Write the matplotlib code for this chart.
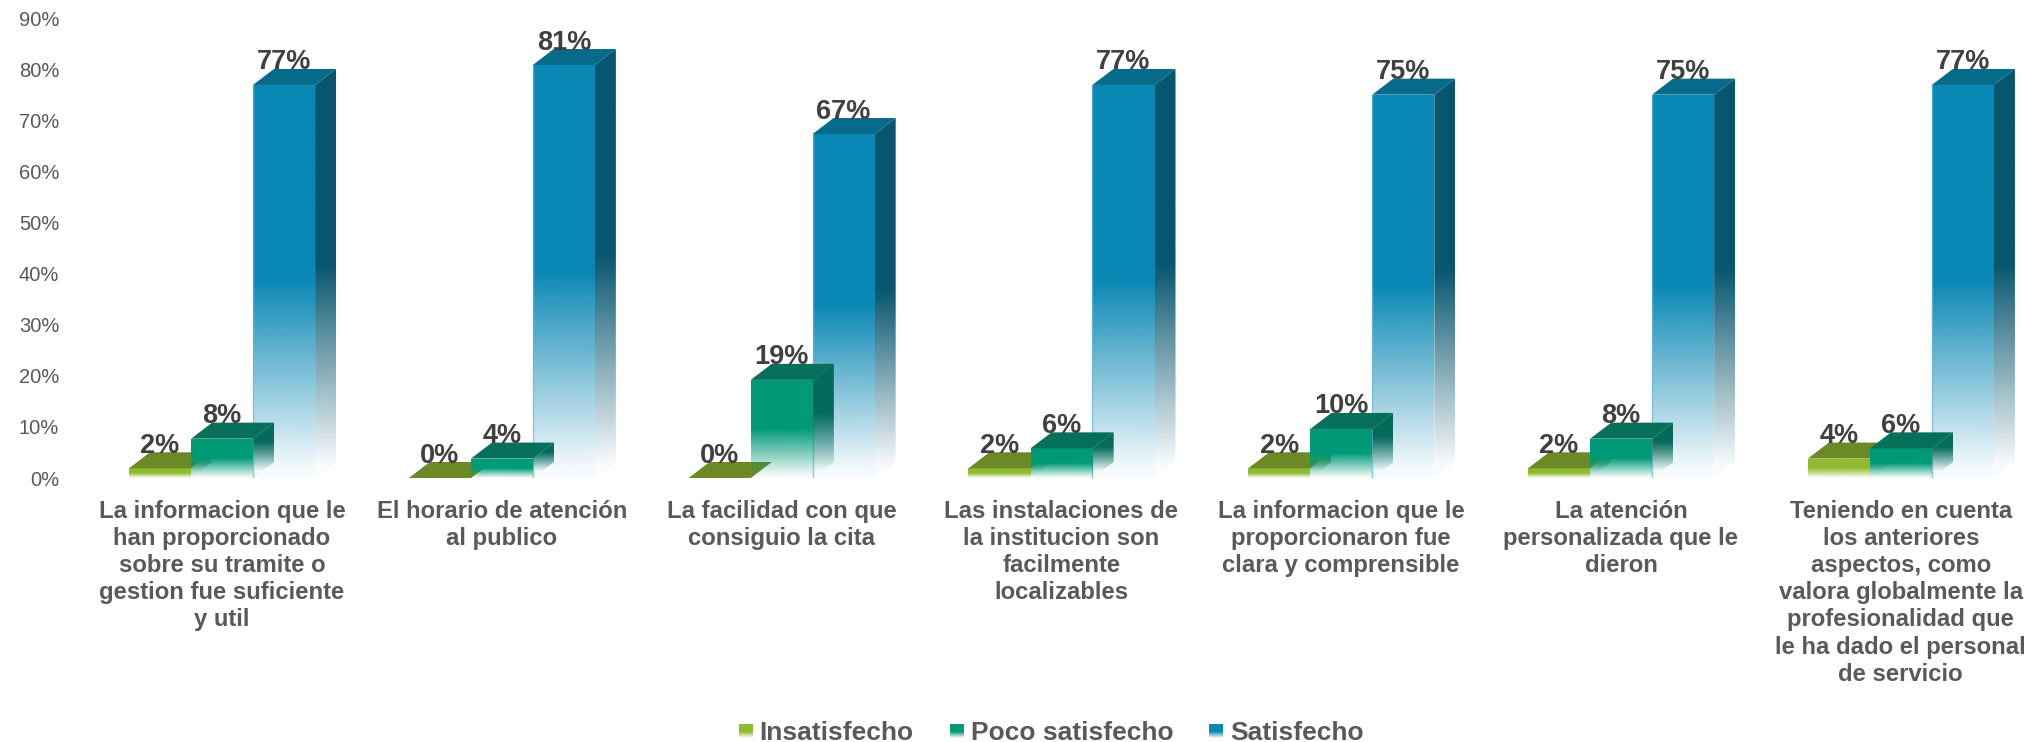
import matplotlib
matplotlib.use("Agg")
import matplotlib.pyplot as plt
from matplotlib.colors import to_rgb
from matplotlib.patches import Polygon
import numpy as np

plt.rcParams['font.family'] = ['Liberation Sans', 'DejaVu Sans']

categories = [
    "La informacion que le\nhan proporcionado\nsobre su tramite o\ngestion fue suficiente\ny util",
    "El horario de atención\nal publico",
    "La facilidad con que\nconsiguio la cita",
    "Las instalaciones de\nla institucion son\nfacilmente\nlocalizables",
    "La informacion que le\nproporcionaron fue\nclara y comprensible",
    "La atención\npersonalizada que le\ndieron",
    "Teniendo en cuenta\nlos anteriores\naspectos, como\nvalora globalmente la\nprofesionalidad que\nle ha dado el personal\nde servicio",
]
insatisfecho = [1.9, 0, 0, 1.9, 1.9, 1.9, 3.8]
poco_satisfecho = [7.7, 3.8, 19.2, 5.8, 9.6, 7.7, 5.8]
satisfecho = [76.9, 80.8, 67.3, 76.9, 75.0, 75.0, 76.9]
y_ticks = [0, 10, 20, 30, 40, 50, 60, 70, 80, 90]

GREEN = ("#8fbb2f", "#6b8a26", "#5f7d22")
TEAL = ("#009a78", "#07705a", "#056a5c")
BLUE = ("#0a88b5", "#066a8a", "#07566f")

W, H = 2032, 742
BAR_W = 0.222
DX = 0.075  # depth of the 3d look, axis units
DY = 3.13
TEXT_DARK = "#404040"
TEXT_GREY = "#595959"


def fade_image(ax, color, x0, x1, y0, y1, fade_from, fade_to, clip):
    # vertical fade to white at the bottom of a face, clipped to the face
    ys = np.linspace(y0, y1, 200)
    alpha = np.clip((ys - fade_from) / max(fade_to - fade_from, 0.01), 0.03, 1)
    img = np.zeros((200, 1, 4))
    img[:, 0, :3] = to_rgb(color)
    img[:, 0, 3] = alpha
    im = ax.imshow(img, extent=(x0, x1, y0, y1), origin="lower", aspect="auto",
                   interpolation="bilinear", zorder=clip.get_zorder())
    ax.add_patch(clip)
    clip.set_visible(False)
    im.set_clip_path(clip)


def draw_bar(ax, x, h, colors, z, edge=None):
    front, top, side = colors
    if h > 0:
        # side face
        pts = [(x + BAR_W, 0), (x + BAR_W + DX, DY), (x + BAR_W + DX, h + DY), (x + BAR_W, h)]
        fade_image(ax, side, x + BAR_W, x + BAR_W + DX, 0, h + DY,
                   DY * 0.4, DY + h * 0.5, Polygon(pts, zorder=z))
        # front face
        pts = [(x, 0), (x + BAR_W, 0), (x + BAR_W, h), (x, h)]
        fade_image(ax, front, x, x + BAR_W, 0, h, 0, h * 0.5, Polygon(pts, zorder=z + 0.1))
        if edge:
            ax.plot([x, x], [0, h], color=edge, lw=1, alpha=0.7, zorder=z + 0.2)
    # top face
    ax.add_patch(Polygon([(x, h), (x + BAR_W, h), (x + BAR_W + DX, h + DY), (x + DX, h + DY)],
                         facecolor=top, edgecolor="none", zorder=z + 0.1))


def add_swatch(fig, x_px, color):
    sw = fig.add_axes([x_px / W, 1 - 738 / H, 14 / W, 14 / H])
    sw.axis("off")
    img = np.zeros((50, 1, 4))
    img[:, 0, :3] = to_rgb(color)
    img[:, 0, 3] = np.clip(np.linspace(0, 2.2, 50), 0.05, 1)
    sw.imshow(img, origin="lower", aspect="auto", interpolation="bilinear")


def main():
    fig = plt.figure(figsize=(W / 100, H / 100), dpi=100)
    ax = fig.add_axes([82 / W, (H - 478) / H, 1950 / W, 460 / H])
    ax.patch.set_visible(False)

    pos = np.arange(len(categories))
    for i in pos:
        draw_bar(ax, i + 0.111, satisfecho[i], BLUE, 2, edge="#6fb8d3")
        draw_bar(ax, i - 0.332, insatisfecho[i], GREEN, 3)
        draw_bar(ax, i - 0.110, poco_satisfecho[i], TEAL, 4)
        for off, val in ((0.111, satisfecho[i]), (-0.332, insatisfecho[i]), (-0.110, poco_satisfecho[i])):
            ax.text(i + off + BAR_W / 2, val + DY - 0.1, f"{val:.0f}%", ha="center", va="baseline",
                    fontsize=19.5, fontweight="bold", color=TEXT_DARK, zorder=6)

    ax.set_xlim(-0.5, 6.469)
    ax.set_ylim(0, 90)
    ax.set_yticks(y_ticks)
    ax.set_yticklabels([f"{t}%" for t in y_ticks], fontsize=14.5, color=TEXT_GREY)
    ax.set_xticks(pos)
    ax.set_xticklabels(categories, fontsize=17.2, fontweight="bold", color=TEXT_GREY, linespacing=1.235)
    ax.tick_params(axis="y", length=0, pad=16.5)
    ax.tick_params(axis="x", length=0, pad=15.5)
    for s in ax.spines.values():
        s.set_visible(False)

    # legend
    for x_sw, x_txt, label, col in ((739, 759, "Insatisfecho", GREEN[0]),
                                    (950, 971, "Poco satisfecho", TEAL[0]),
                                    (1209, 1230, "Satisfecho", BLUE[0])):
        add_swatch(fig, x_sw, col)
        fig.text(x_txt / W, 1 - 740 / H, label, fontsize=19, fontweight="bold",
                 color=TEXT_GREY, ha="left", va="baseline")

    fig.savefig("out.png", dpi=100)


if __name__ == "__main__":
    main()
